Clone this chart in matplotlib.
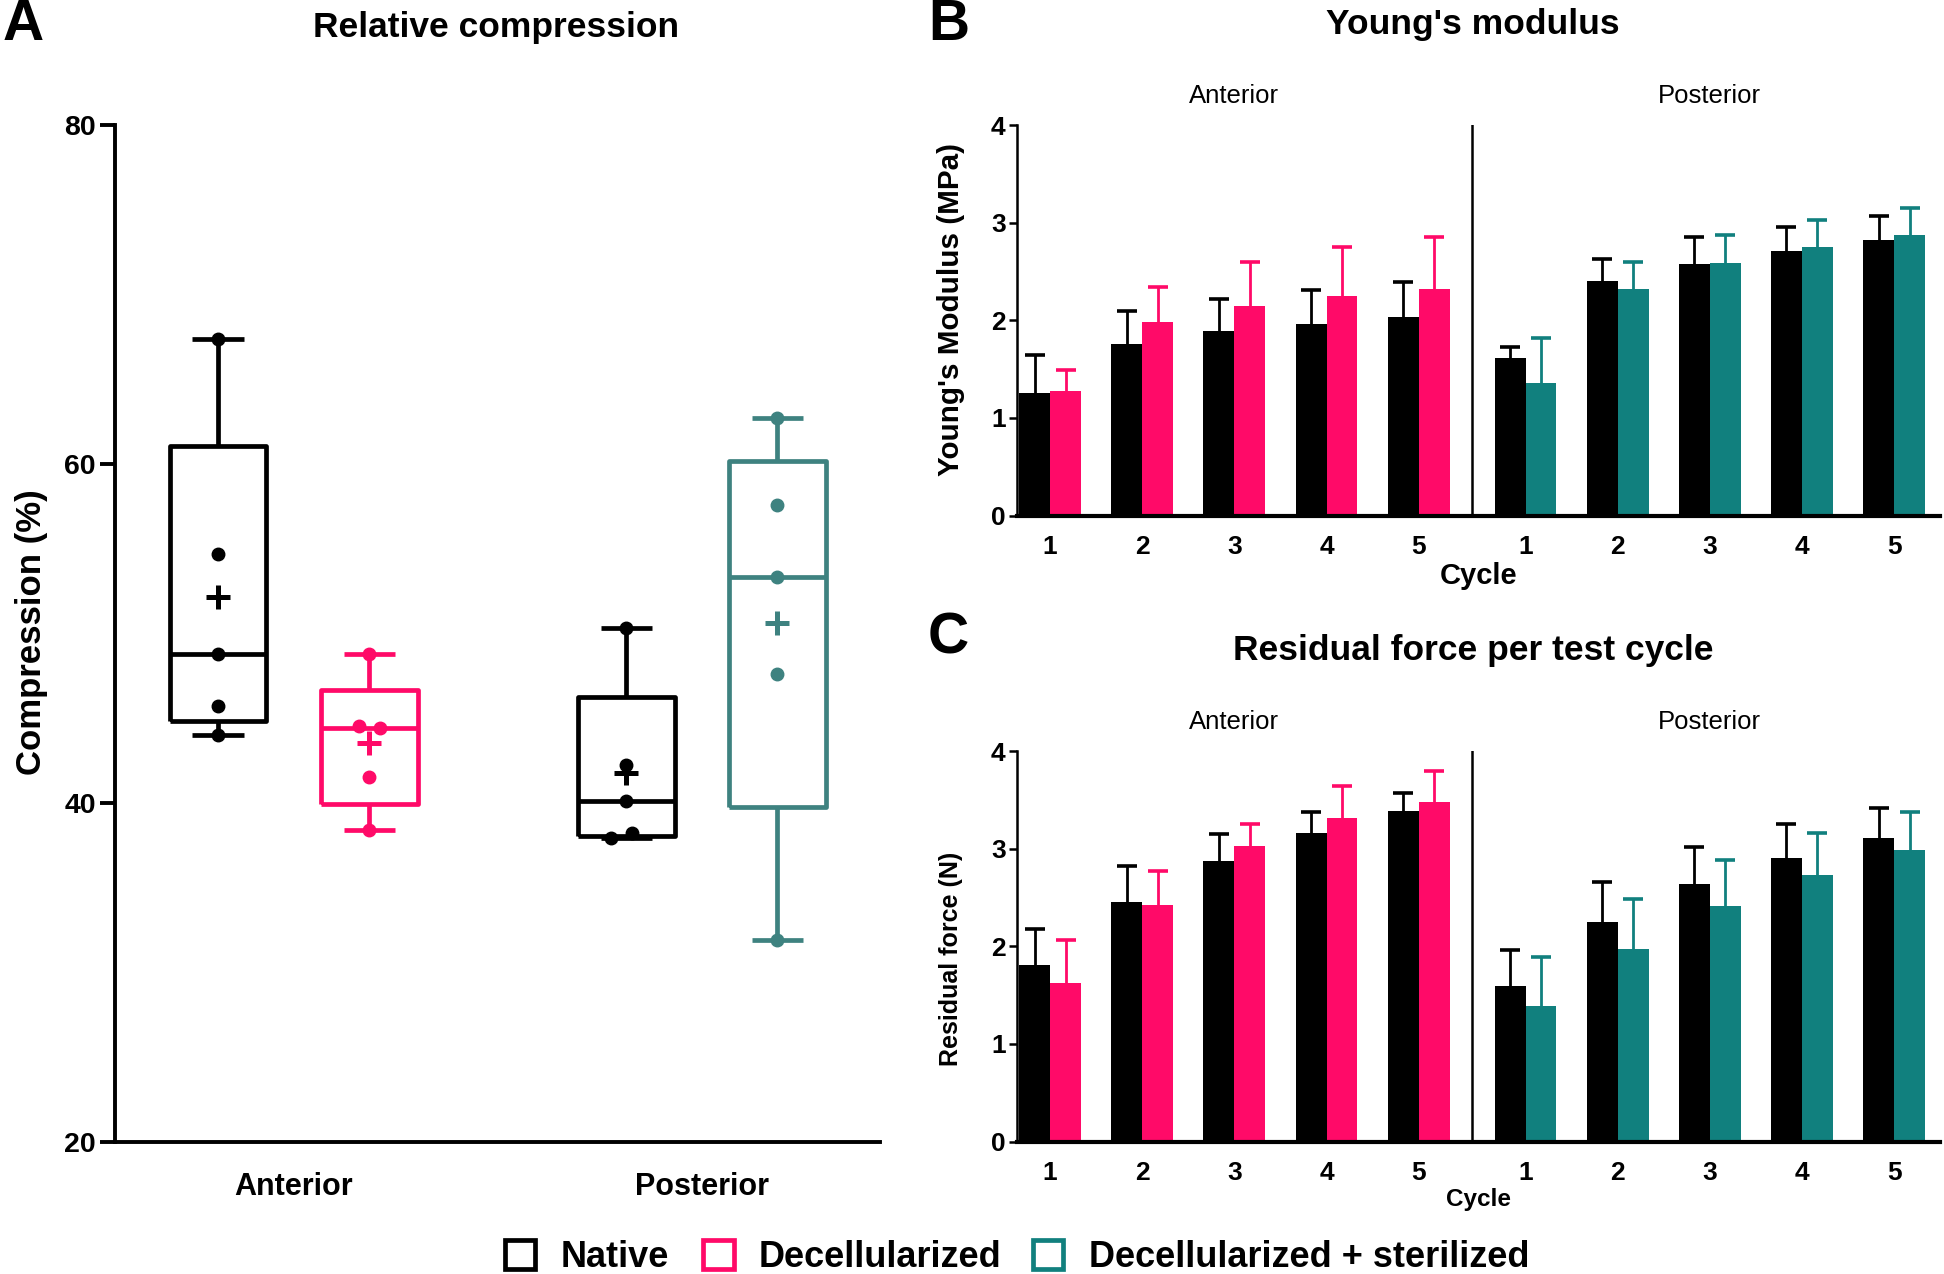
import numpy as np
import matplotlib.pyplot as plt
from matplotlib.patches import Patch

plt.rcParams['font.family'] = ['Liberation Sans', 'DejaVu Sans']

# -----------------------------
# Data
# -----------------------------
# Panel A: relative compression (%), individual samples
box_groups = ["Anterior", "Posterior"]
native_ant = [67.4, 54.7, 48.8, 45.7, 44.0]
decell_ant = [48.8, 44.5, 44.4, 41.5, 38.4]
native_post = [50.3, 42.2, 40.1, 38.2, 37.9]
sterile_post = [62.7, 57.6, 53.3, 47.6, 31.9]

# Panels B and C: mean + SD per cycle
cycles = ["1", "2", "3", "4", "5"]

ym_native_ant = [1.26, 1.76, 1.89, 1.96, 2.03]
ym_native_ant_sd = [0.38, 0.34, 0.33, 0.35, 0.36]
ym_decell_ant = [1.28, 1.98, 2.15, 2.25, 2.32]
ym_decell_ant_sd = [0.21, 0.36, 0.45, 0.50, 0.53]
ym_native_post = [1.61, 2.40, 2.58, 2.71, 2.82]
ym_native_post_sd = [0.12, 0.23, 0.27, 0.25, 0.25]
ym_sterile_post = [1.36, 2.32, 2.59, 2.75, 2.87]
ym_sterile_post_sd = [0.46, 0.28, 0.28, 0.28, 0.28]

rf_native_ant = [1.81, 2.45, 2.87, 3.16, 3.39]
rf_native_ant_sd = [0.37, 0.37, 0.28, 0.22, 0.18]
rf_decell_ant = [1.62, 2.42, 3.03, 3.31, 3.48]
rf_decell_ant_sd = [0.44, 0.35, 0.22, 0.33, 0.32]
rf_native_post = [1.59, 2.25, 2.64, 2.90, 3.11]
rf_native_post_sd = [0.37, 0.41, 0.38, 0.35, 0.31]
rf_sterile_post = [1.39, 1.97, 2.41, 2.73, 2.99]
rf_sterile_post_sd = [0.50, 0.51, 0.47, 0.43, 0.39]

legend_labels = ["Native", "Decellularized", "Decellularized + sterilized"]

# -----------------------------
# Style
# -----------------------------
BLACK = "#000000"
PINK = "#FF0A68"
TEAL_BOX = "#3E8280"
TEAL_BAR = "#11807E"

fig = plt.figure(figsize=(19.44, 12.74), dpi=100)

# -----------------------------
# Panel A: box plots
# -----------------------------
axA = fig.add_axes([0.0593, 0.104, 0.3935, 0.7978])

box_pos = [1.0, 2.0, 3.7, 4.7]
box_sets = [native_ant, decell_ant, native_post, sterile_post]
box_cols = [BLACK, PINK, BLACK, TEAL_BOX]
# small horizontal offsets so overlapping dots stay visible
dot_shift = [
    [0, 0, 0, 0, 0],
    [0, -0.07, 0.07, 0, 0],
    [0, 0, 0, 0.04, -0.1],
    [0, 0, 0, 0, 0],
]

for vals, pos, col, shift in zip(box_sets, box_pos, box_cols, dot_shift):
    v = np.array(vals)
    q1, med, q3 = np.percentile(v, [25, 50, 75], method="weibull")
    stats = dict(med=med, q1=q1, q3=q3, whislo=v.min(), whishi=v.max(), fliers=[])
    lp = dict(color=col, linewidth=3.4, solid_capstyle="butt")
    axA.bxp([stats], positions=[pos], widths=0.64, capwidths=0.34,
            boxprops=lp, whiskerprops=lp, capprops=lp, medianprops=lp,
            showfliers=False, manage_ticks=False)
    axA.plot(pos + np.array(shift), v, "o", color=col, ms=9, zorder=4)
    axA.plot(pos, v.mean(), marker="+", color=col, ms=17, mew=3.6, zorder=4)

axA.set_ylim(20, 80)
axA.set_xlim(0.32, 5.38)
axA.set_yticks([20, 40, 60, 80])
axA.set_xticks([1.5, 4.2])
axA.set_xticklabels(box_groups)
for lab in axA.get_xticklabels() + axA.get_yticklabels():
    lab.set_fontweight("bold")
axA.tick_params(axis="y", length=11, width=2.8, labelsize=20.5, pad=3)
axA.tick_params(axis="x", length=0, labelsize=22, pad=22)
for s in ["top", "right"]:
    axA.spines[s].set_visible(False)
for s in ["left", "bottom"]:
    axA.spines[s].set_linewidth(2.8)

# -----------------------------
# Panels B and C: grouped bars
# -----------------------------
x_ant = np.arange(5)
x_post = np.arange(5) + 5.16
bw = 0.336
divider = 4.58


def bar_panel(ax, nat_a, nat_a_sd, dec_a, dec_a_sd, nat_p, nat_p_sd, ster_p, ster_p_sd):
    series = [
        (x_ant - bw / 2, nat_a, nat_a_sd, BLACK),
        (x_ant + bw / 2, dec_a, dec_a_sd, PINK),
        (x_post - bw / 2, nat_p, nat_p_sd, BLACK),
        (x_post + bw / 2, ster_p, ster_p_sd, TEAL_BAR),
    ]
    for xs, m, sd, col in series:
        ax.bar(xs, m, width=bw, color=col, zorder=2)
        eb = ax.errorbar(xs, m, yerr=[np.zeros(len(m)), sd], fmt="none", ecolor=col,
                         elinewidth=2.0, capsize=7, capthick=2.6, zorder=1)
        # only the upper cap is shown (SD above the bar)
        eb[1][0].set_visible(False)
    ax.plot([divider, divider], [0, 4], color="black", lw=1.8, zorder=3)
    ax.set_ylim(0, 4)
    ax.set_xlim(-0.363, 9.66)
    ax.set_yticks([0, 1, 2, 3, 4])
    ax.set_xticks(list(x_ant) + list(x_post))
    ax.set_xticklabels(cycles + cycles)
    for lab in ax.get_xticklabels() + ax.get_yticklabels():
        lab.set_fontweight("bold")
    ax.tick_params(axis="y", length=6, width=1.8, labelsize=19, pad=2)
    ax.tick_params(axis="x", length=0, labelsize=19, pad=14)
    for s in ["top", "right"]:
        ax.spines[s].set_visible(False)
    ax.spines["left"].set_linewidth(1.8)
    ax.spines["bottom"].set_linewidth(3.0)
    ax.text(2, 4.3, "Anterior", ha="center", va="center", fontsize=18.5)
    ax.text(7.16, 4.3, "Posterior", ha="center", va="center", fontsize=18.5)


axB = fig.add_axes([0.523, 0.5953, 0.475, 0.3065])
bar_panel(axB, ym_native_ant, ym_native_ant_sd, ym_decell_ant, ym_decell_ant_sd,
          ym_native_post, ym_native_post_sd, ym_sterile_post, ym_sterile_post_sd)
axB.set_xlabel("Cycle", fontsize=21, fontweight="bold", labelpad=2)

axC = fig.add_axes([0.523, 0.104, 0.475, 0.3065])
bar_panel(axC, rf_native_ant, rf_native_ant_sd, rf_decell_ant, rf_decell_ant_sd,
          rf_native_post, rf_native_post_sd, rf_sterile_post, rf_sterile_post_sd)
axC.set_xlabel("Cycle", fontsize=17.5, fontweight="bold", labelpad=2)

# -----------------------------
# Titles, labels, panel letters
# -----------------------------
fig.text(0.012, 0.98, "A", fontsize=41, fontweight="bold", ha="center", va="center")
fig.text(0.488, 0.98, "B", fontsize=41, fontweight="bold", ha="center", va="center")
fig.text(0.488, 0.499, "C", fontsize=41, fontweight="bold", ha="center", va="center")

fig.text(0.255, 0.9786, "Relative compression", fontsize=25.5, fontweight="bold",
         ha="center", va="center")
fig.text(0.7577, 0.9805, "Young's modulus", fontsize=25.5, fontweight="bold",
         ha="center", va="center")
fig.text(0.7577, 0.4893, "Residual force per test cycle", fontsize=25.5, fontweight="bold",
         ha="center", va="center")

fig.text(0.016, 0.504, "Compression (%)", fontsize=25, fontweight="bold",
         rotation=90, ha="center", va="center")
fig.text(0.489, 0.757, "Young's Modulus (MPa)", fontsize=21.3, fontweight="bold",
         rotation=90, ha="center", va="center")
fig.text(0.489, 0.247, "Residual force (N)", fontsize=18, fontweight="bold",
         rotation=90, ha="center", va="center")

# -----------------------------
# Legend (one entry per legend so each can sit where the original has it)
# -----------------------------
legend_x = [0.2596, 0.3616, 0.5312]
for lab, col, lx in zip(legend_labels, [BLACK, PINK, TEAL_BAR], legend_x):
    h = Patch(facecolor="white", edgecolor=col, linewidth=3.4)
    fig.legend([h], [lab], loc="center left", bbox_to_anchor=(lx, 0.013),
               frameon=False, handlelength=0.85, handleheight=0.85,
               handletextpad=0.7, borderpad=0, borderaxespad=0,
               prop=dict(size=26, weight="bold"))

fig.savefig("out.png", dpi=100)
plt.close(fig)
